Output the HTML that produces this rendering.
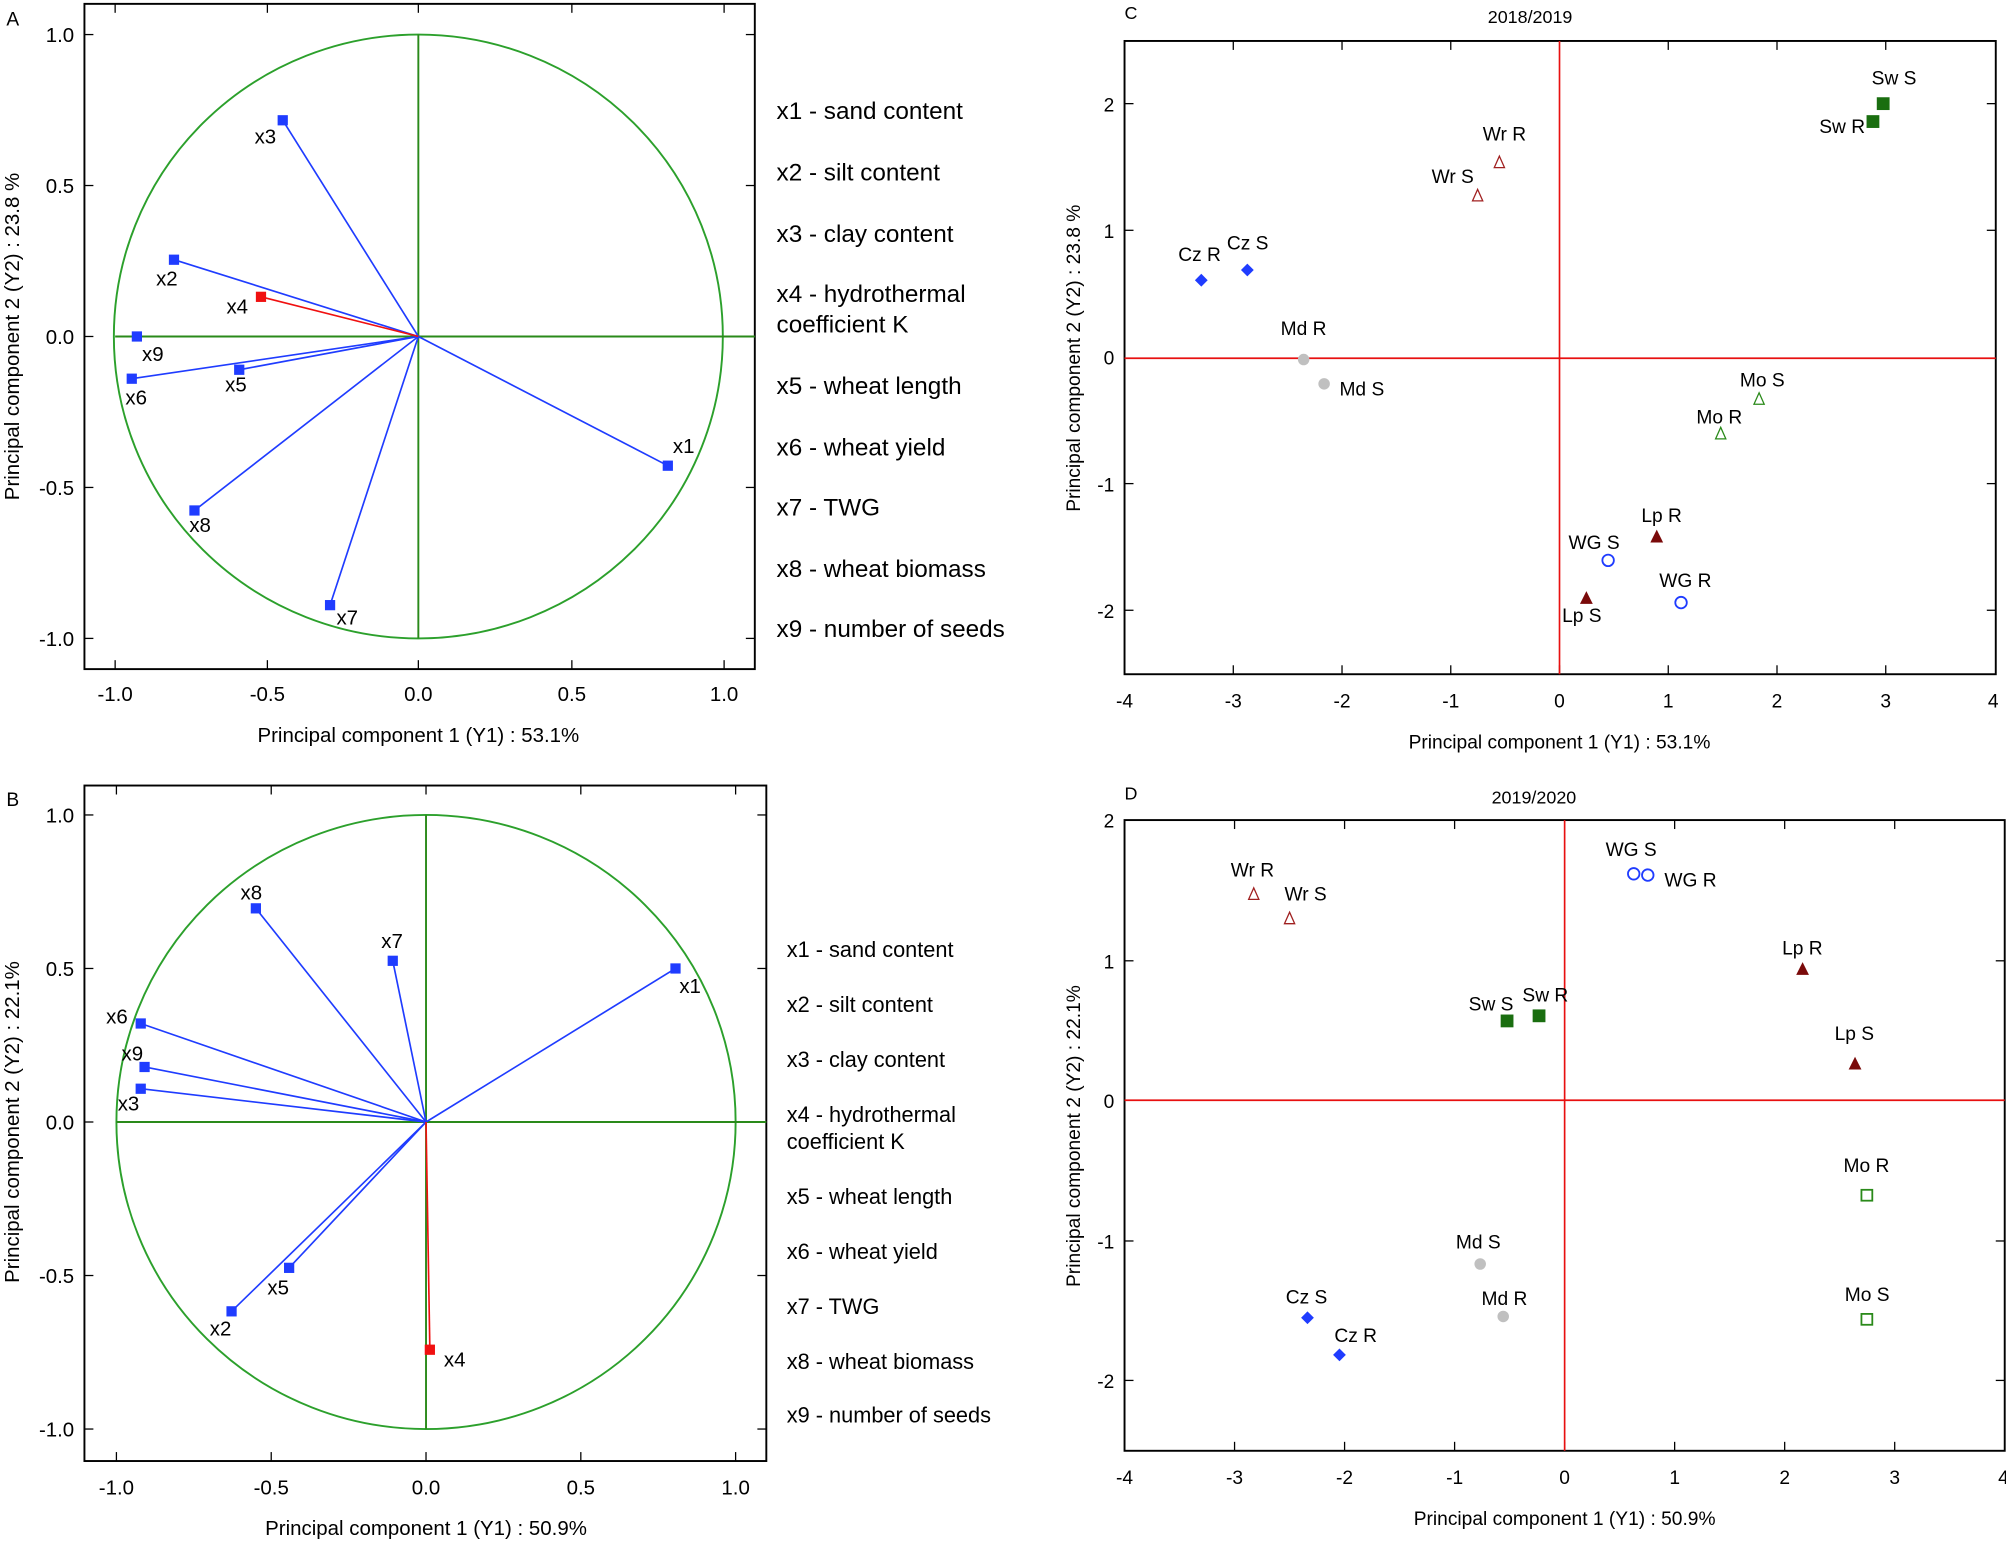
<!DOCTYPE html>
<html><head><meta charset="utf-8"><style>
html,body{margin:0;padding:0;background:#fff;}
svg{display:block;font-family:"Liberation Sans",Arial,sans-serif;}
</style></head><body>
<svg width="2006" height="1541" viewBox="0 0 1568 1204.5" xmlns="http://www.w3.org/2000/svg">
<!-- ================= Panel A ================= -->
<text x="5" y="20" font-size="15">A</text>
<rect x="66" y="3" width="524" height="520" fill="none" stroke="#000" stroke-width="1.5"/>
<g stroke="#000" stroke-width="1">
<line x1="90" y1="523" x2="90" y2="516"/><line x1="209" y1="523" x2="209" y2="516"/><line x1="327" y1="523" x2="327" y2="516"/><line x1="447" y1="523" x2="447" y2="516"/><line x1="566" y1="523" x2="566" y2="516"/>
<line x1="90" y1="3" x2="90" y2="10"/><line x1="209" y1="3" x2="209" y2="10"/><line x1="327" y1="3" x2="327" y2="10"/><line x1="447" y1="3" x2="447" y2="10"/><line x1="566" y1="3" x2="566" y2="10"/>
<line x1="66" y1="27" x2="73" y2="27"/><line x1="66" y1="145" x2="73" y2="145"/><line x1="66" y1="263" x2="73" y2="263"/><line x1="66" y1="381" x2="73" y2="381"/><line x1="66" y1="499" x2="73" y2="499"/>
<line x1="590" y1="27" x2="583" y2="27"/><line x1="590" y1="145" x2="583" y2="145"/><line x1="590" y1="263" x2="583" y2="263"/><line x1="590" y1="381" x2="583" y2="381"/><line x1="590" y1="499" x2="583" y2="499"/>
</g>
<g font-size="16" text-anchor="end">
<text x="58" y="33">1.0</text><text x="58" y="151">0.5</text><text x="58" y="269">0.0</text><text x="58" y="387">-0.5</text><text x="58" y="505">-1.0</text>
</g>
<g font-size="16" text-anchor="middle">
<text x="90" y="548">-1.0</text><text x="209" y="548">-0.5</text><text x="327" y="548">0.0</text><text x="447" y="548">0.5</text><text x="566" y="548">1.0</text>
</g>
<text x="327" y="580" font-size="16" text-anchor="middle">Principal component 1 (Y1) : 53.1%</text>
<text transform="translate(15,263) rotate(-90)" font-size="16" text-anchor="middle">Principal component 2 (Y2) : 23.8 %</text>
<ellipse cx="327" cy="263" rx="238" ry="236" fill="none" stroke="#2ca02c" stroke-width="1.5"/>
<line x1="90" y1="263" x2="590" y2="263" stroke="#2a8a1a" stroke-width="1.5"/>
<line x1="327" y1="27" x2="327" y2="499" stroke="#2a8a1a" stroke-width="1.5"/>
<g stroke="#1f3cff" stroke-width="1.3">
<line x1="327" y1="263" x2="221" y2="94"/><line x1="327" y1="263" x2="136" y2="203"/><line x1="327" y1="263" x2="103" y2="296"/><line x1="327" y1="263" x2="187" y2="289"/><line x1="327" y1="263" x2="152" y2="399"/><line x1="327" y1="263" x2="258" y2="473"/><line x1="327" y1="263" x2="522" y2="364"/>
</g>
<line x1="327" y1="263" x2="204" y2="232" stroke="#f01010" stroke-width="1.3"/>
<g fill="#1f3cff">
<rect x="217" y="90" width="8" height="8"/><rect x="132" y="199" width="8" height="8"/><rect x="103" y="259" width="8" height="8"/><rect x="99" y="292" width="8" height="8"/><rect x="183" y="285" width="8" height="8"/><rect x="148" y="395" width="8" height="8"/><rect x="254" y="469" width="8" height="8"/><rect x="518" y="360" width="8" height="8"/>
</g>
<rect x="200" y="228" width="8" height="8" fill="#f01010"/>
<g font-size="16">
<text x="199" y="112">x3</text><text x="122" y="223">x2</text><text x="177" y="245">x4</text><text x="111" y="282">x9</text><text x="98" y="316">x6</text><text x="176" y="306">x5</text><text x="148" y="416">x8</text><text x="263" y="488">x7</text><text x="526" y="354">x1</text>
</g>
<g font-size="19">
<text x="607" y="93">x1 - sand content</text>
<text x="607" y="141">x2 - silt content</text>
<text x="607" y="189">x3 - clay content</text>
<text x="607" y="236">x4 - hydrothermal</text>
<text x="607" y="260">coefficient K</text>
<text x="607" y="308">x5 - wheat length</text>
<text x="607" y="356">x6 - wheat yield</text>
<text x="607" y="403">x7 - TWG</text>
<text x="607" y="451">x8 - wheat biomass</text>
<text x="607" y="498">x9 - number of seeds</text>
</g>

<!-- ================= Panel B ================= -->
<text x="5" y="630" font-size="15">B</text>
<rect x="66" y="614" width="533" height="528" fill="none" stroke="#000" stroke-width="1.5"/>
<g stroke="#000" stroke-width="1">
<line x1="91" y1="1142" x2="91" y2="1135"/><line x1="212" y1="1142" x2="212" y2="1135"/><line x1="333" y1="1142" x2="333" y2="1135"/><line x1="454" y1="1142" x2="454" y2="1135"/><line x1="575" y1="1142" x2="575" y2="1135"/>
<line x1="91" y1="614" x2="91" y2="621"/><line x1="212" y1="614" x2="212" y2="621"/><line x1="333" y1="614" x2="333" y2="621"/><line x1="454" y1="614" x2="454" y2="621"/><line x1="575" y1="614" x2="575" y2="621"/>
<line x1="66" y1="637" x2="73" y2="637"/><line x1="66" y1="757" x2="73" y2="757"/><line x1="66" y1="877" x2="73" y2="877"/><line x1="66" y1="997" x2="73" y2="997"/><line x1="66" y1="1117" x2="73" y2="1117"/>
<line x1="599" y1="637" x2="592" y2="637"/><line x1="599" y1="757" x2="592" y2="757"/><line x1="599" y1="877" x2="592" y2="877"/><line x1="599" y1="997" x2="592" y2="997"/><line x1="599" y1="1117" x2="592" y2="1117"/>
</g>
<g font-size="16" text-anchor="end">
<text x="58" y="643">1.0</text><text x="58" y="763">0.5</text><text x="58" y="883">0.0</text><text x="58" y="1003">-0.5</text><text x="58" y="1123">-1.0</text>
</g>
<g font-size="16" text-anchor="middle">
<text x="91" y="1168">-1.0</text><text x="212" y="1168">-0.5</text><text x="333" y="1168">0.0</text><text x="454" y="1168">0.5</text><text x="575" y="1168">1.0</text>
</g>
<text x="333" y="1200" font-size="16" text-anchor="middle">Principal component 1 (Y1) : 50.9%</text>
<text transform="translate(15,877) rotate(-90)" font-size="16" text-anchor="middle">Principal component 2 (Y2) : 22.1%</text>
<ellipse cx="333" cy="877" rx="242" ry="240" fill="none" stroke="#2ca02c" stroke-width="1.5"/>
<line x1="91" y1="877" x2="599" y2="877" stroke="#2a8a1a" stroke-width="1.5"/>
<line x1="333" y1="637" x2="333" y2="1117" stroke="#2a8a1a" stroke-width="1.5"/>
<g stroke="#1f3cff" stroke-width="1.3">
<line x1="333" y1="877" x2="200" y2="710"/><line x1="333" y1="877" x2="307" y2="751"/><line x1="333" y1="877" x2="528" y2="757"/><line x1="333" y1="877" x2="110" y2="800"/><line x1="333" y1="877" x2="113" y2="834"/><line x1="333" y1="877" x2="110" y2="851"/><line x1="333" y1="877" x2="226" y2="991"/><line x1="333" y1="877" x2="181" y2="1025"/>
</g>
<line x1="333" y1="877" x2="336" y2="1055" stroke="#f01010" stroke-width="1.3"/>
<g fill="#1f3cff">
<rect x="196" y="706" width="8" height="8"/><rect x="303" y="747" width="8" height="8"/><rect x="524" y="753" width="8" height="8"/><rect x="106" y="796" width="8" height="8"/><rect x="109" y="830" width="8" height="8"/><rect x="106" y="847" width="8" height="8"/><rect x="222" y="987" width="8" height="8"/><rect x="177" y="1021" width="8" height="8"/>
</g>
<rect x="332" y="1051" width="8" height="8" fill="#f01010"/>
<g font-size="16">
<text x="188" y="703">x8</text><text x="298" y="741">x7</text><text x="531" y="776">x1</text><text x="83" y="800">x6</text><text x="95" y="829">x9</text><text x="92" y="868">x3</text><text x="209" y="1012">x5</text><text x="164" y="1044">x2</text><text x="347" y="1068">x4</text>
</g>
<g font-size="17">
<text x="615" y="748">x1 - sand content</text>
<text x="615" y="791">x2 - silt content</text>
<text x="615" y="834">x3 - clay content</text>
<text x="615" y="877">x4 - hydrothermal</text>
<text x="615" y="898">coefficient K</text>
<text x="615" y="941">x5 - wheat length</text>
<text x="615" y="984">x6 - wheat yield</text>
<text x="615" y="1027">x7 - TWG</text>
<text x="615" y="1070">x8 - wheat biomass</text>
<text x="615" y="1112">x9 - number of seeds</text>
</g>

<!-- ================= Panel C ================= -->
<text x="879" y="15" font-size="14">C</text>
<text x="1196" y="18" font-size="14" text-anchor="middle">2018/2019</text>
<rect x="879" y="32" width="681" height="495" fill="none" stroke="#000" stroke-width="1.5"/>
<g stroke="#000" stroke-width="1">
<line x1="964" y1="527" x2="964" y2="520"/><line x1="1049" y1="527" x2="1049" y2="520"/><line x1="1134" y1="527" x2="1134" y2="520"/><line x1="1219" y1="527" x2="1219" y2="520"/><line x1="1304" y1="527" x2="1304" y2="520"/><line x1="1389" y1="527" x2="1389" y2="520"/><line x1="1474" y1="527" x2="1474" y2="520"/>
<line x1="964" y1="32" x2="964" y2="39"/><line x1="1049" y1="32" x2="1049" y2="39"/><line x1="1134" y1="32" x2="1134" y2="39"/><line x1="1304" y1="32" x2="1304" y2="39"/><line x1="1389" y1="32" x2="1389" y2="39"/><line x1="1474" y1="32" x2="1474" y2="39"/>
<line x1="879" y1="81" x2="886" y2="81"/><line x1="879" y1="180" x2="886" y2="180"/><line x1="879" y1="378" x2="886" y2="378"/><line x1="879" y1="477" x2="886" y2="477"/>
<line x1="1560" y1="81" x2="1553" y2="81"/><line x1="1560" y1="180" x2="1553" y2="180"/><line x1="1560" y1="378" x2="1553" y2="378"/><line x1="1560" y1="477" x2="1553" y2="477"/>
</g>
<g font-size="15" text-anchor="end">
<text x="871" y="87">2</text><text x="871" y="186">1</text><text x="871" y="285">0</text><text x="871" y="384">-1</text><text x="871" y="483">-2</text>
</g>
<g font-size="15" text-anchor="middle">
<text x="879" y="553">-4</text><text x="964" y="553">-3</text><text x="1049" y="553">-2</text><text x="1134" y="553">-1</text><text x="1219" y="553">0</text><text x="1304" y="553">1</text><text x="1389" y="553">2</text><text x="1474" y="553">3</text><text x="1558" y="553">4</text>
</g>
<text x="1219" y="585" font-size="15" text-anchor="middle">Principal component 1 (Y1) : 53.1%</text>
<text transform="translate(844,280) rotate(-90)" font-size="15" text-anchor="middle">Principal component 2 (Y2) : 23.8 %</text>
<line x1="879" y1="280" x2="1560" y2="280" stroke="#e81010" stroke-width="1.3"/>
<line x1="1219" y1="32" x2="1219" y2="527" stroke="#e81010" stroke-width="1.3"/>
<rect x="1467" y="76" width="10" height="10" fill="#1a6e10"/>
<rect x="1459" y="90" width="10" height="10" fill="#1a6e10"/>
<polygon points="1172,122 1176,131 1168,131" fill="none" stroke="#a02020"/>
<polygon points="1155,148 1159,157 1151,157" fill="none" stroke="#a02020"/>
<polygon points="939,214 944,219 939,224 934,219" fill="#1f3cff"/>
<polygon points="975,206 980,211 975,216 970,211" fill="#1f3cff"/>
<circle cx="1019" cy="281" r="4.5" fill="#c0c0c0"/>
<circle cx="1035" cy="300" r="4.5" fill="#c0c0c0"/>
<polygon points="1375,307 1379,316 1371,316" fill="none" stroke="#2a8a1a"/>
<polygon points="1345,334 1349,343 1341,343" fill="none" stroke="#2a8a1a"/>
<polygon points="1295,414 1300,424 1290,424" fill="#7a0a0a"/>
<polygon points="1240,462 1245,472 1235,472" fill="#7a0a0a"/>
<circle cx="1257" cy="438" r="4.5" fill="none" stroke="#1f3cff" stroke-width="1.4"/>
<circle cx="1314" cy="471" r="4.5" fill="none" stroke="#1f3cff" stroke-width="1.4"/>
<g font-size="15">
<text x="1463" y="66">Sw S</text><text x="1422" y="104">Sw R</text>
<text x="1159" y="110">Wr R</text><text x="1119" y="143">Wr S</text>
<text x="921" y="204">Cz R</text><text x="959" y="195">Cz S</text>
<text x="1001" y="262">Md R</text><text x="1047" y="309">Md S</text>
<text x="1360" y="302">Mo S</text><text x="1326" y="331">Mo R</text>
<text x="1283" y="408">Lp R</text><text x="1226" y="429">WG S</text>
<text x="1297" y="459">WG R</text><text x="1221" y="486">Lp S</text>
</g>

<!-- ================= Panel D ================= -->
<text x="879" y="625" font-size="14">D</text>
<text x="1199" y="628" font-size="14" text-anchor="middle">2019/2020</text>
<rect x="879" y="641" width="688" height="493" fill="none" stroke="#000" stroke-width="1.5"/>
<g stroke="#000" stroke-width="1">
<line x1="965" y1="1134" x2="965" y2="1127"/><line x1="1051" y1="1134" x2="1051" y2="1127"/><line x1="1137" y1="1134" x2="1137" y2="1127"/><line x1="1223" y1="1134" x2="1223" y2="1127"/><line x1="1309" y1="1134" x2="1309" y2="1127"/><line x1="1395" y1="1134" x2="1395" y2="1127"/><line x1="1481" y1="1134" x2="1481" y2="1127"/>
<line x1="965" y1="641" x2="965" y2="648"/><line x1="1051" y1="641" x2="1051" y2="648"/><line x1="1137" y1="641" x2="1137" y2="648"/><line x1="1309" y1="641" x2="1309" y2="648"/><line x1="1395" y1="641" x2="1395" y2="648"/><line x1="1481" y1="641" x2="1481" y2="648"/>
<line x1="879" y1="751" x2="886" y2="751"/><line x1="879" y1="970" x2="886" y2="970"/><line x1="879" y1="1079" x2="886" y2="1079"/>
<line x1="1567" y1="751" x2="1560" y2="751"/><line x1="1567" y1="970" x2="1560" y2="970"/><line x1="1567" y1="1079" x2="1560" y2="1079"/>
</g>
<g font-size="15" text-anchor="end">
<text x="871" y="647">2</text><text x="871" y="757">1</text><text x="871" y="866">0</text><text x="871" y="976">-1</text><text x="871" y="1085">-2</text>
</g>
<g font-size="15" text-anchor="middle">
<text x="879" y="1160">-4</text><text x="965" y="1160">-3</text><text x="1051" y="1160">-2</text><text x="1137" y="1160">-1</text><text x="1223" y="1160">0</text><text x="1309" y="1160">1</text><text x="1395" y="1160">2</text><text x="1481" y="1160">3</text><text x="1566" y="1160">4</text>
</g>
<text x="1223" y="1192" font-size="15" text-anchor="middle">Principal component 1 (Y1) : 50.9%</text>
<text transform="translate(844,888) rotate(-90)" font-size="15" text-anchor="middle">Principal component 2 (Y2) : 22.1%</text>
<line x1="879" y1="860" x2="1567" y2="860" stroke="#e81010" stroke-width="1.3"/>
<line x1="1223" y1="641" x2="1223" y2="1134" stroke="#e81010" stroke-width="1.3"/>
<polygon points="980,694 984,703 976,703" fill="none" stroke="#a02020"/>
<polygon points="1008,713 1012,722 1004,722" fill="none" stroke="#a02020"/>
<circle cx="1277" cy="683" r="4.5" fill="none" stroke="#1f3cff" stroke-width="1.4"/>
<circle cx="1288" cy="684" r="4.5" fill="none" stroke="#1f3cff" stroke-width="1.4"/>
<rect x="1173" y="793" width="10" height="10" fill="#1a6e10"/>
<rect x="1198" y="789" width="10" height="10" fill="#1a6e10"/>
<polygon points="1409,752 1414,762 1404,762" fill="#7a0a0a"/>
<polygon points="1450,826 1455,836 1445,836" fill="#7a0a0a"/>
<rect x="1455" y="930" width="8.5" height="8.5" fill="none" stroke="#2a8a1a" stroke-width="1.4"/>
<rect x="1455" y="1027" width="8.5" height="8.5" fill="none" stroke="#2a8a1a" stroke-width="1.4"/>
<circle cx="1157" cy="988" r="4.5" fill="#c0c0c0"/>
<circle cx="1175" cy="1029" r="4.5" fill="#c0c0c0"/>
<polygon points="1022,1025 1027,1030 1022,1035 1017,1030" fill="#1f3cff"/>
<polygon points="1047,1054 1052,1059 1047,1064 1042,1059" fill="#1f3cff"/>
<g font-size="15">
<text x="962" y="685">Wr R</text><text x="1004" y="704">Wr S</text>
<text x="1255" y="669">WG S</text><text x="1301" y="693">WG R</text>
<text x="1148" y="790">Sw S</text><text x="1190" y="783">Sw R</text>
<text x="1393" y="746">Lp R</text><text x="1434" y="813">Lp S</text>
<text x="1441" y="916">Mo R</text><text x="1442" y="1017">Mo S</text>
<text x="1138" y="976">Md S</text><text x="1158" y="1020">Md R</text>
<text x="1005" y="1019">Cz S</text><text x="1043" y="1049">Cz R</text>
</g>
</svg>
</body></html>
